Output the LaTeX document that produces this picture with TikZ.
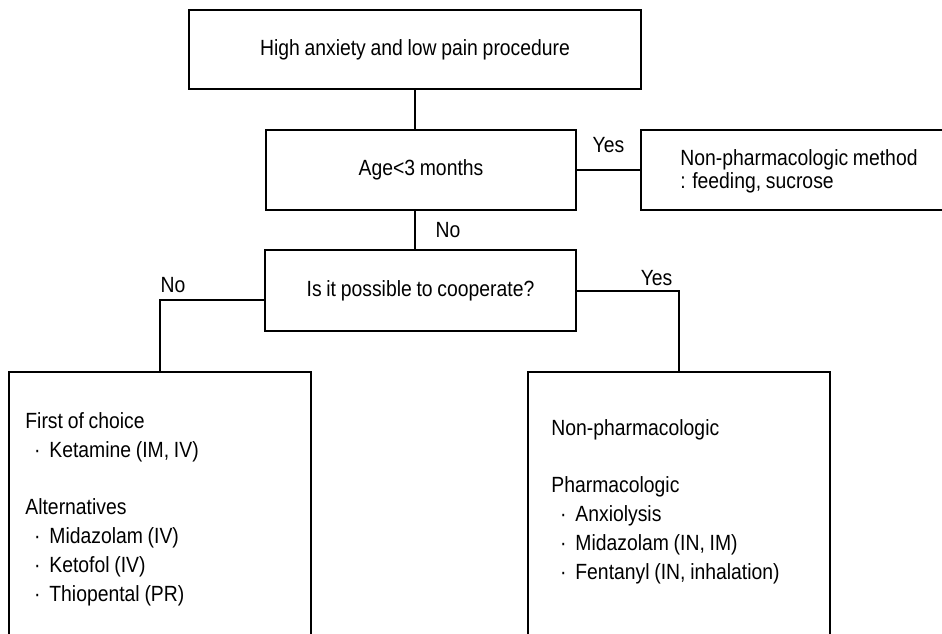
\documentclass[tikz,border=0pt]{standalone}
\usepackage{fontspec}
\setmainfont{Liberation Sans}[FakeStretch=0.88, WordSpace=0.88]
\usetikzlibrary{positioning}
\newcommand{\itm}{\makebox[12pt]{\textperiodcentered}}

\begin{document}
\begin{tikzpicture}[x=0.5pt, y=-0.5pt, font=\fontsize{11}{14.35}\selectfont,
  every node/.style = {inner sep=0pt},
  box/.style = {draw, line width=0.6pt, align=center},
  conn/.style = {line width=0.6pt},
  lbl/.style = {font=\fontsize{11}{13}\selectfont}]
  \useasboundingbox (0,0) rectangle (942,633);
  \clip (0,0) rectangle (942,633);
  % boxes
  \node[box, minimum width=226pt, minimum height=39.5pt] (proc) at (415,49.5) {High anxiety and low pain procedure};
  \node[box, minimum width=155pt, minimum height=40pt] (age) at (421,170) {Age<3 months};
  \node[box, minimum width=165pt, minimum height=40pt] (nonpharm) at (806,170) {};
  \node[anchor=base west, font=\fontsize{11}{10.5}\selectfont] (nonpharmtext) at (680,188)
    {\begin{tabular}[b]{@{}l@{}}Non-pharmacologic method\\: feeding, sucrose\end{tabular}};
  \node[box, minimum width=155.5pt, minimum height=40.5pt] (coop) at (420.5,290.5) {Is it possible to cooperate?};
  \node[box, minimum width=151pt, minimum height=154pt] (nocoop) at (160,526) {};
  \node[box, minimum width=151pt, minimum height=154pt] (yescoop) at (679,526) {};
  % box texts (anchored at the last line)
  \node[align=left, anchor=base west] (notext) at (25,601)
    {First of choice\\ \itm Ketamine (IM, IV)\\[14.35pt] Alternatives\\ \itm Midazolam (IV)\\ \itm Ketofol (IV)\\ \itm Thiopental (PR)};
  \node[align=left, anchor=base west] (yestext) at (551,579)
    {Non-pharmacologic\\[14.35pt] Pharmacologic\\ \itm Anxiolysis\\ \itm Midazolam (IN, IM)\\ \itm Fentanyl (IN, inhalation)};
  % connectors
  \draw[conn] (proc.south) -- (proc.south |- age.north);
  \draw[conn] (age.east) -- node[lbl, midway, anchor=base, yshift=9pt] (ageyes) {Yes} (nonpharm.west);
  \draw[conn] (age.south -| proc.south) -- node[lbl, midway, anchor=west, xshift=10pt] (ageno) {No} (coop.north -| proc.south);
  \draw[conn] ([yshift=-4.75pt]coop.west) -| node[lbl, pos=0.5, anchor=south west, yshift=3.5pt] (coopno) {No} (nocoop.north);
  \draw[conn] ([yshift=-0.25pt]coop.east) -| node[lbl, pos=0.5, anchor=south east, xshift=-3pt, yshift=2.5pt] (coopyes) {Yes} (yescoop.north);
\end{tikzpicture}
\end{document}
